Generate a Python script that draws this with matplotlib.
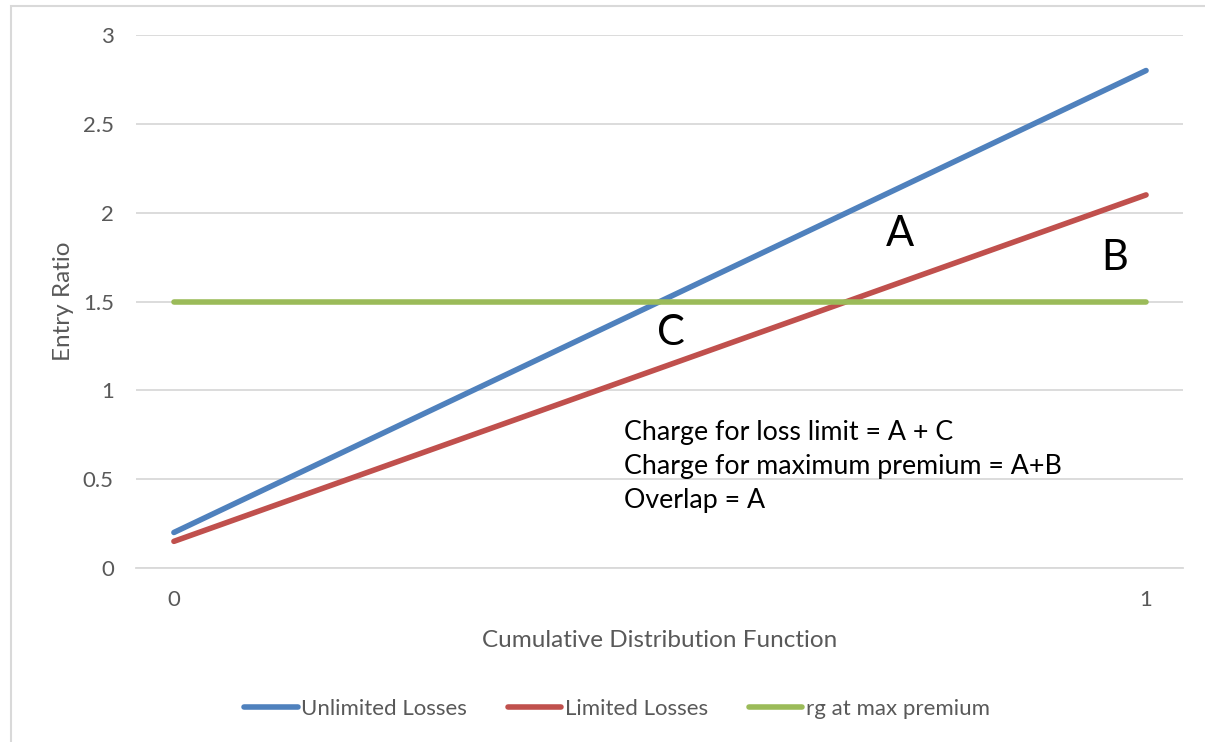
import matplotlib.pyplot as plt
from matplotlib.patches import Rectangle

plt.rcParams['font.family'] = ['Lato', 'DejaVu Sans']

# cumulative distribution points and entry ratios
cdf = [0, 1]
unlimited = [0.2, 2.8]
limited = [0.15, 2.1]
rg_max = [1.5, 1.5]
yticks = [0, 0.5, 1, 1.5, 2, 2.5, 3]
ytick_labels = ['0', '0.5', '1', '1.5', '2', '2.5', '3']

blue = '#4F81BD'
red = '#C0504D'
green = '#9BBB59'
grey_txt = '#595959'
grid = '#D9D9D9'

fig = plt.figure(figsize=(12.05, 7.42), dpi=100)
ax = fig.add_axes([136 / 1205, 1 - 568 / 742, (1183 - 136) / 1205, (568 - 35) / 742])

ax.plot(cdf, unlimited, color=blue, lw=4, solid_capstyle='round', label='Unlimited Losses')
ax.plot(cdf, limited, color=red, lw=4, solid_capstyle='round', label='Limited Losses')
ax.plot(cdf, rg_max, color=green, lw=4, solid_capstyle='round', label='rg at max premium')

ax.set_xlim(-0.039, 1.038)
ax.set_ylim(0, 3)
ax.set_yticks(yticks)
ax.set_yticklabels(ytick_labels)
ax.set_xticks(cdf)
ax.set_xticklabels(['0', '1'])
ax.grid(axis='y', color=grid, lw=1.3)
ax.set_axisbelow(True)
for side in ['top', 'right', 'left']:
    ax.spines[side].set_visible(False)
ax.spines['bottom'].set_color(grid)
ax.spines['bottom'].set_linewidth(1.3)
ax.tick_params(axis='both', length=0, labelsize=16, colors=grey_txt)
ax.tick_params(axis='y', pad=16)
ax.tick_params(axis='x', pad=16)

ax.set_xlabel('Cumulative Distribution Function', fontsize=17.5, color=grey_txt, labelpad=14)
ax.set_ylabel('Entry Ratio', fontsize=17.5, color=grey_txt, labelpad=6)

# region labels
ax.text(0.747, 1.88, 'A', fontsize=30, ha='center', va='center')
ax.text(0.968, 1.745, 'B', fontsize=30, ha='center', va='center')
ax.text(0.511, 1.32, 'C', fontsize=30, ha='center', va='center')

notes = ['Charge for loss limit = A + C',
         'Charge for maximum premium = A+B',
         'Overlap = A']
for i, line in enumerate(notes):
    ax.text(0.463, 0.765 - i * 0.192, line, fontsize=19.3, ha='left', va='center')

fig.legend(loc='center', bbox_to_anchor=(0.512, 1 - 709 / 742), ncol=3, frameon=False,
           fontsize=16, labelcolor=grey_txt, handlelength=2.4, handletextpad=0.15,
           columnspacing=1.85)

# chart area border
fig.patches.append(Rectangle((11 / 1205, -0.1), 1.2, 0.1 + 1 - 6 / 742,
                             transform=fig.transFigure, fill=False,
                             edgecolor=grid, lw=1.5))

fig.savefig('out.png', dpi=100)
